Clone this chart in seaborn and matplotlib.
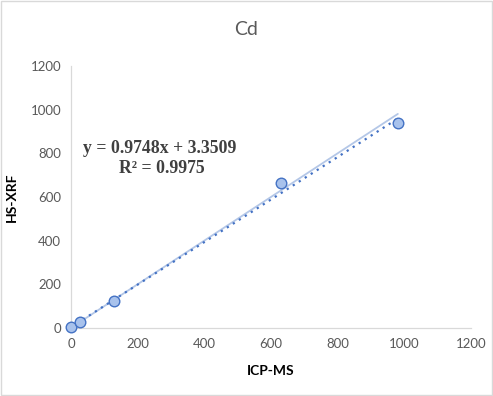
import numpy as np
import pandas as pd
import seaborn as sns
import matplotlib.pyplot as plt
from matplotlib.patches import Rectangle

# values
icp_ms = [0, 27, 129, 630, 981]
hs_xrf = [3, 28, 124, 664, 939]
slope = 0.9748
intercept = 3.3509
r2 = 0.9975

df = pd.DataFrame({'ICP-MS': icp_ms, 'HS-XRF': hs_xrf})

sns.set_style("white")
plt.rcParams['font.family'] = ['Lato', 'DejaVu Sans']

fig = plt.figure(figsize=(4.93, 3.96), dpi=100)
ax = fig.add_axes([0.144, 0.172, 0.811, 0.661])

# 1:1 line
lim = [0, max(icp_ms)]
ax.plot(lim, lim, color='#B4C7E7', lw=1.3, zorder=1)

# linear trendline
tx = np.array([min(icp_ms), max(icp_ms)])
ax.plot(tx, slope * tx + intercept, color='#4472C4', lw=1.6, ls=(0, (1, 2.2)), zorder=2)

sns.scatterplot(data=df, x='ICP-MS', y='HS-XRF', ax=ax, s=58,
                color='#A8C2EC', edgecolor='#4472C4', linewidth=1.0, zorder=3,
                clip_on=False)

ax.set_xlim(0, 1200)
ax.set_ylim(0, 1200)
ax.set_xticks(range(0, 1201, 200))
ax.set_yticks(range(0, 1201, 200))
ax.tick_params(length=0, labelsize=9.5, colors='#595959', pad=7)
for s in ['top', 'right']:
    ax.spines[s].set_visible(False)
for s in ['left', 'bottom']:
    ax.spines[s].set_color('#D9D9D9')
    ax.spines[s].set_linewidth(0.9)

ax.set_xlabel('ICP-MS', fontsize=10, fontweight='bold', color='black', labelpad=11)
ax.set_ylabel('HS-XRF', fontsize=10, fontweight='bold', color='black', labelpad=9)
fig.text(0.5, 0.925, 'Cd', ha='center', va='center', fontsize=14, color='#595959')

fig.text(0.3235, 0.626, f'y = {slope}x + {intercept}',
         ha='center', va='center', fontsize=12.8, fontweight='bold',
         family='Liberation Serif', color='#404040')
fig.text(0.3276, 0.574, f'R² = {r2}',
         ha='center', va='center', fontsize=12.8, fontweight='bold',
         family='Liberation Serif', color='#404040')

fig.patches.append(Rectangle((0.003, 0.003), 0.994, 0.994, transform=fig.transFigure,
                             fill=False, edgecolor='#D9D9D9', lw=1))

fig.savefig('out.png', dpi=100)
